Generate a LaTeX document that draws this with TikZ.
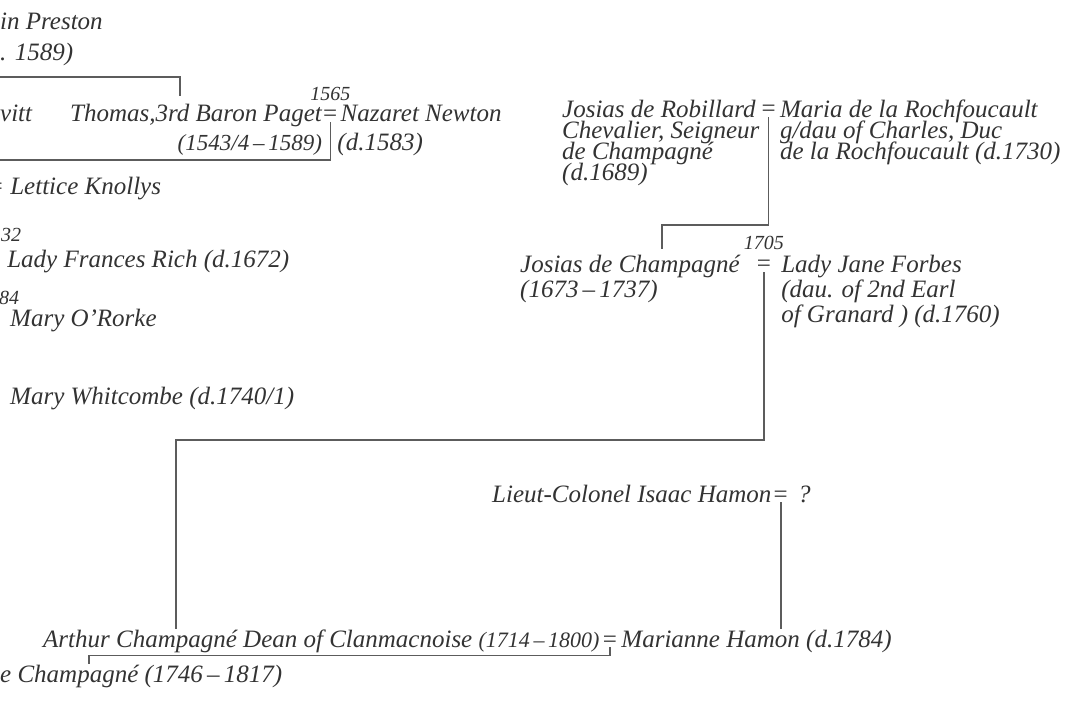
\documentclass[tikz,border=0pt]{standalone}
\usepackage{fontspec}
\setmainfont{Liberation Serif}
\usepackage{xcolor}
\usetikzlibrary{positioning}
\definecolor{ink}{HTML}{333333}

\begin{document}
\begin{tikzpicture}[
    x=1pt, y=-1pt,
    person/.style={inner sep=0pt, anchor=base west, text=ink, font=\fontsize{25}{18.5}\selectfont\itshape},
    family/.style={person, anchor=north west, align=left, font={\fontsize{25}{21}\selectfont\itshape\lineskiplimit=-30pt}},
    loosefamily/.style={family, font={\fontsize{25}{25}\selectfont\itshape\lineskiplimit=-30pt}},
    dates/.style={person, font=\fontsize{23}{18}\selectfont\itshape},
    wedyear/.style={inner sep=0pt, anchor=base, text=ink, font=\fontsize{20}{18}\selectfont\itshape},
    wed/.style={inner sep=0pt, anchor=base, text=ink, font=\fontsize{25}{18}\selectfont},
    link/.style={draw=ink!80, line width=1.5pt}
]
\fill [white] (0,0) rectangle (1071,708);
\useasboundingbox (0,0) rectangle (1071,708);

\node [person] (preston) at (0,30) {in Preston};
\node [person] (prestond) at (0,61) {. 1589)};
\node [person] (hewitt) at (0,122) {vitt};
\node [person] (paget) at (70,122) {Thomas,3rd Baron Paget};
\node [wed, right=1pt of paget.base east, anchor=base west] (wedpaget) {=};
\node [wedyear, above=21pt of wedpaget.base, anchor=base] (y1565) {1565};
\node [person, right=3pt of wedpaget.base east, anchor=base west] (newton) {Nazaret Newton};
\node [dates, anchor=base east, xshift=-8pt] (pagetd) at (wedpaget.base |- 0,151) {(1543/4\,--\,1589)};
\node [person, xshift=7pt] (newtond) at (wedpaget.base |- 0,151) {(d.1583)};
\coordinate (pagetup) at (0,77);
\coordinate (pagetkid) at (0,160);

\node [person] (lettice) at (-13,195) {= Lettice Knollys};
\node [wedyear, anchor=base west] (y1632) at (1,242) {32};
\node [person] (frances) at (-16,268) {= Lady Frances Rich (d.1672)};
\node [wedyear, anchor=base west] (y1684) at (-1,305) {84};
\node [person] (rorke) at (10,327) {Mary O'Rorke};
\node [person] (whitcombe) at (10,405) {Mary Whitcombe (d.1740/1)};

\node [family] (robillard) at (562,100) {Josias de Robillard\\Chevalier, Seigneur\\de Champagné\\(d.1689)};
\node [wed, xshift=9pt] (wedrob) at (robillard.east |- 0,117) {=};
\node [family, xshift=4pt] (maria) at (wedrob.east |- 0,100) {Maria de la Rochfoucault\\g/dau of Charles, Duc\\de la Rochfoucault (d.1730)};

\node [loosefamily] (josias) at (520,255) {Josias de Champagné\\(1673\,--\,1737)};
\node [wed, xshift=24pt] (wedjosias) at (josias.east |- 0,272) {=};
\node [wedyear, above=22pt of wedjosias.base, anchor=base] (y1705) {1705};
\node [loosefamily, xshift=10pt] (jane) at (wedjosias.east |- 0,255) {Lady Jane Forbes\\(dau. of 2nd Earl\\of Granard ) (d.1760)};

\node [person] (isaac) at (492,502) {Lieut-Colonel Isaac Hamon};
\node [wed, right=2pt of isaac.base east, anchor=base west] (wedisaac) {=};
\node [person, right=10pt of wedisaac.base east, anchor=base west] (unknown) {?};

\node [person] (arthur) at (43,647) {Arthur Champagné Dean of Clanmacnoise {\fontsize{22}{18}\selectfont(1714\,--\,1800)}};
\node [wed, right=3pt of arthur.base east, anchor=base west] (wedarthur) {=};
\node [person, right=4pt of wedarthur.base east, anchor=base west] (marianne) {Marianne Hamon (d.1784)};
\node [person] (son) at (0,682) {e Champagné (1746\,--\,1817)};

\draw [link] (pagetup) -| ([shift={(110,-8)}]paget.north west);
\draw [link] (wedpaget.south) |- (pagetkid);
\draw [link] (wedrob.south) |- ([shift={(142,-30)}]josias.north west) -- ([shift={(142,-6)}]josias.north west);
\draw [link] (wedjosias.south) |- ([shift={(133,-189)}]arthur.north west) -- ([xshift=133]arthur.north west);
\draw [link] (wedisaac.south) -- (wedisaac.south |- marianne.north);
\draw [link] (wedarthur.south) |- ([shift={(89,-9)}]son.north west) -- ([xshift=89]son.north west);

\end{tikzpicture}
\end{document}
